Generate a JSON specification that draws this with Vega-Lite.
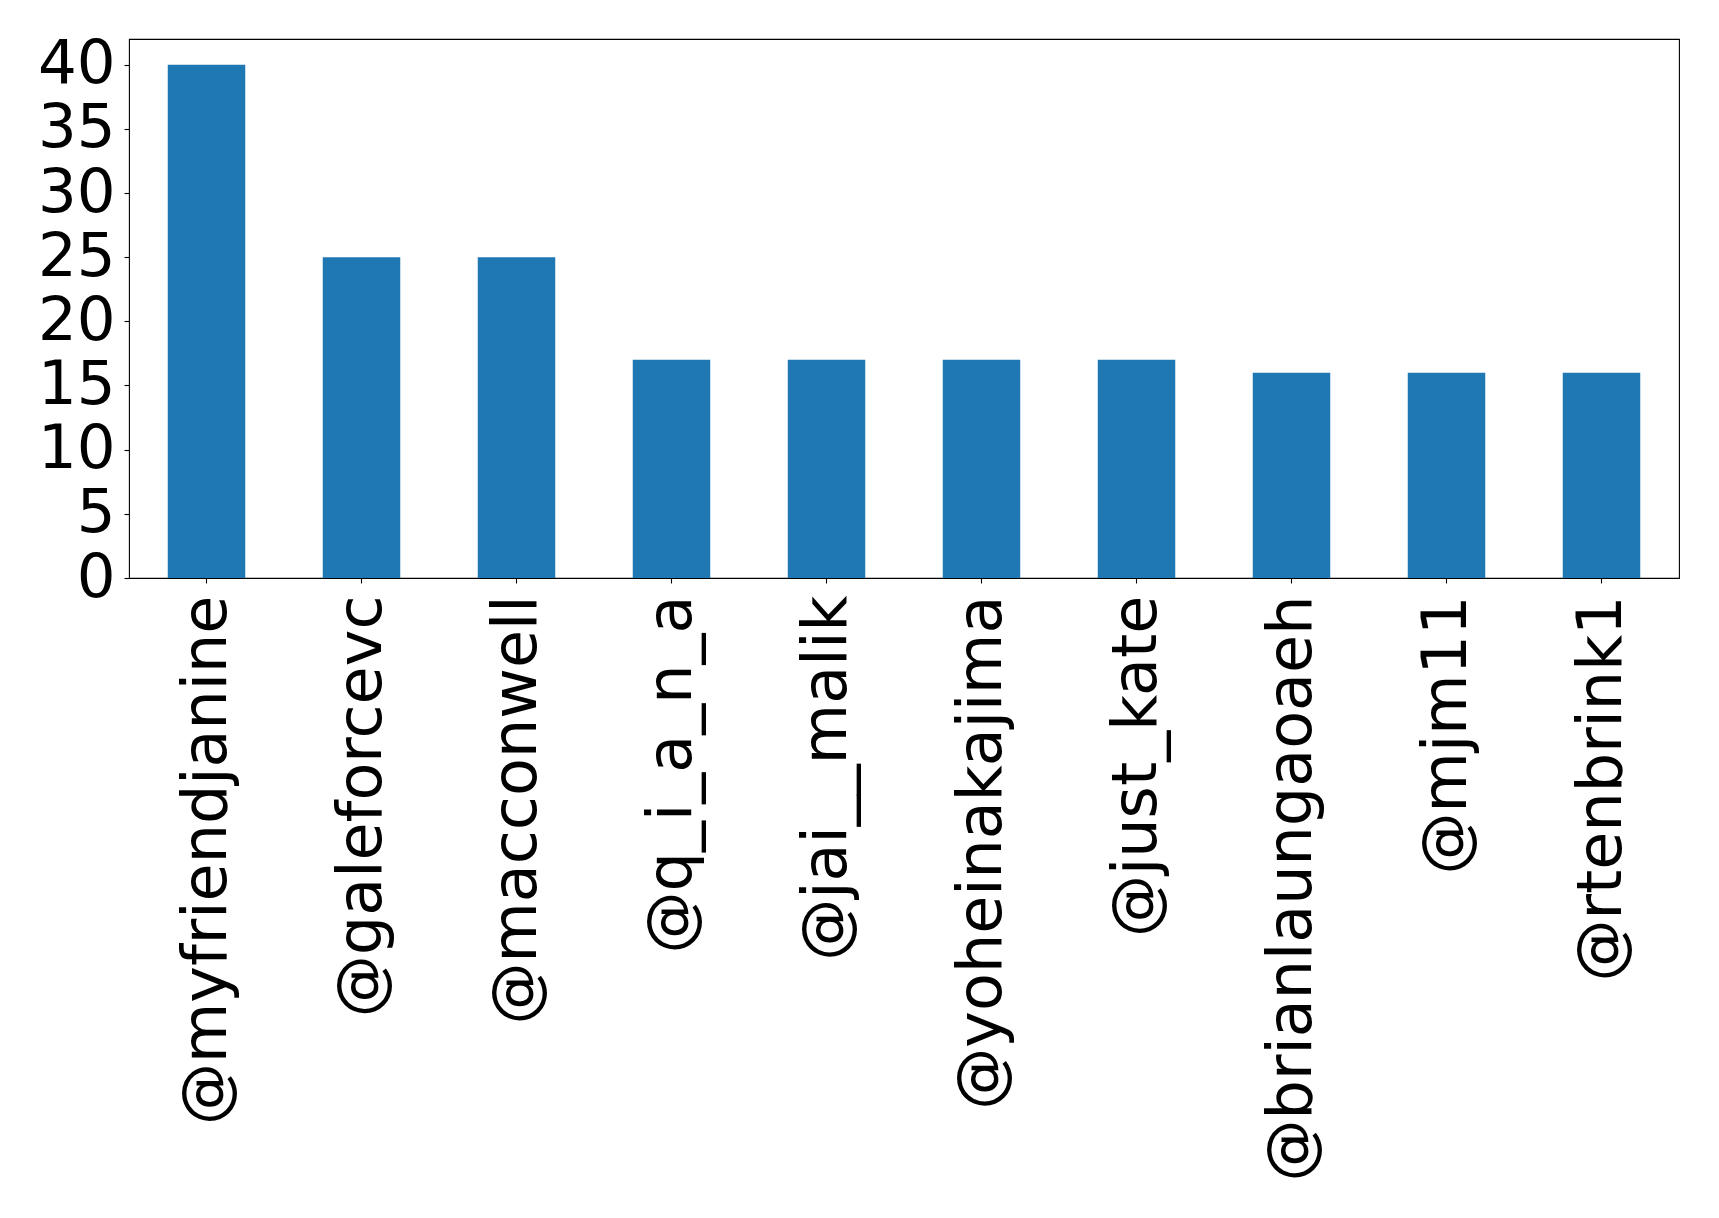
{
  "$schema": "https://vega.github.io/schema/vega-lite/v6.json",
  "width": 1550,
  "height": 539,
  "autosize": {"type": "none"},
  "padding": {"left": 129, "top": 39, "right": 39, "bottom": 640},
  "background": "white",
  "config": {
    "view": {"stroke": "black", "strokeWidth": 1.1},
    "font": "DejaVu Sans"
  },
  "data": {
    "values": [
      {"user": "@myfriendjanine", "count": 40},
      {"user": "@galeforcevc", "count": 25},
      {"user": "@macconwell", "count": 25},
      {"user": "@q_i_a_n_a", "count": 17},
      {"user": "@jai__malik", "count": 17},
      {"user": "@yoheinakajima", "count": 17},
      {"user": "@just_kate", "count": 17},
      {"user": "@brianlaungaoaeh", "count": 16},
      {"user": "@mjm11", "count": 16},
      {"user": "@rtenbrink1", "count": 16}
    ]
  },
  "mark": {"type": "bar", "color": "#1f77b4"},
  "encoding": {
    "x": {
      "field": "user",
      "type": "nominal",
      "sort": null,
      "scale": {"paddingInner": 0.5, "paddingOuter": 0.25},
      "axis": {
        "title": null,
        "domain": false,
        "labelAngle": -90,
        "labelAlign": "right",
        "labelBaseline": "middle",
        "labelFont": "DejaVu Sans",
        "labelFontSize": 62,
        "labelColor": "black",
        "labelPadding": 12,
        "tickSize": 5,
        "tickColor": "black",
        "tickWidth": 1.1,
        "labelLimit": 0
      }
    },
    "y": {
      "field": "count",
      "type": "quantitative",
      "scale": {"domain": [0, 42], "nice": false, "zero": true},
      "axis": {
        "title": null,
        "domain": false,
        "grid": false,
        "values": [0, 5, 10, 15, 20, 25, 30, 35, 40],
        "labelFont": "DejaVu Sans",
        "labelFontSize": 61,
        "labelColor": "black",
        "labelPadding": 9,
        "labelBaseline": "middle",
        "tickSize": 5,
        "tickColor": "black",
        "tickWidth": 1.1,
        "labelOverlap": false
      }
    }
  }
}
